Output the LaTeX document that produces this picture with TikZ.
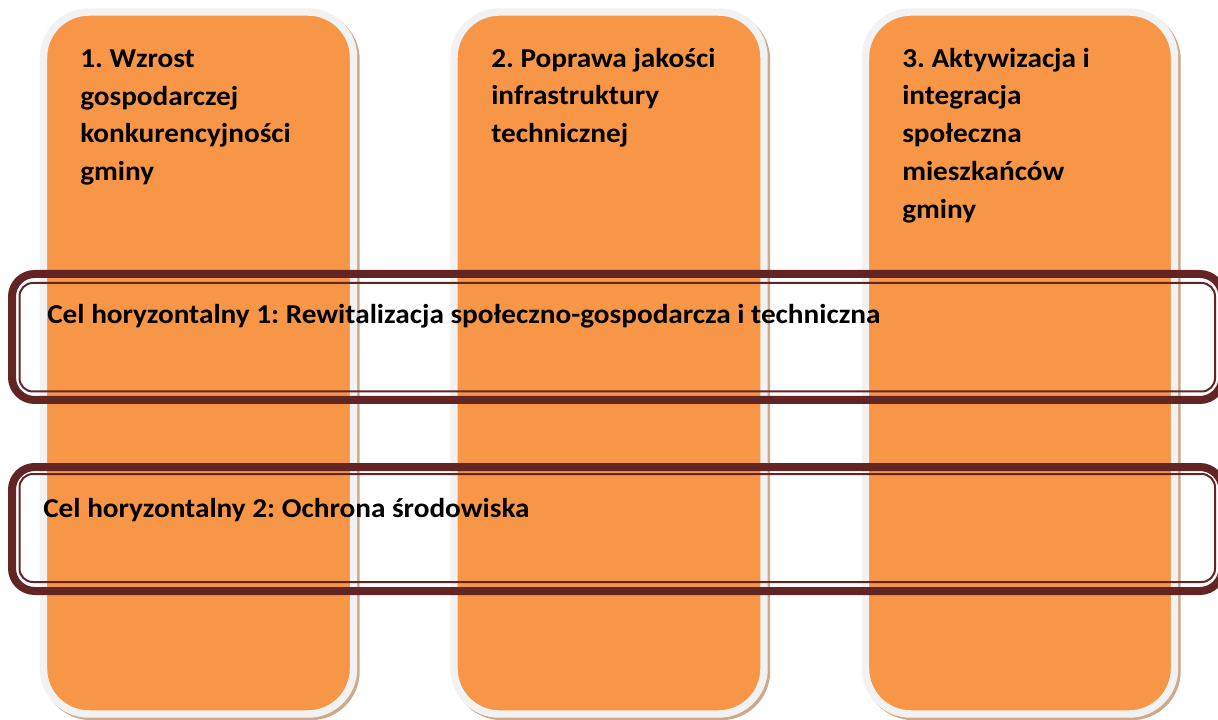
\documentclass[tikz,border=0pt]{standalone}
\usepackage{fontspec}
\setmainfont{Carlito}[FakeStretch=1.07]
\usepackage{xcolor}
\usepackage{tikz}
\definecolor{goalfill}{HTML}{F79646}
\definecolor{goalrim}{HTML}{F2F2F2}
\definecolor{goalshadow}{HTML}{CFA98B}
\definecolor{bandline}{HTML}{632523}
\frenchspacing
\tikzset{
  goal/.style={fill=goalfill, draw=goalrim, line width=5.6pt, rounded corners=34pt},
  goalshade/.style={fill=goalshadow, draw=goalshadow, line width=5.6pt, rounded corners=34pt},
  bandouter/.style={draw=bandline, line width=6pt, rounded corners=17pt},
  bandinner/.style={draw=bandline, line width=1.5pt, rounded corners=10pt},
  goaltext/.style={
    font=\fontsize{20.5pt}{28.3pt}\selectfont\bfseries,
    anchor=base west,
    align=left,
    inner sep=0pt
  },
  bandtext/.style={
    font=\fontsize{20.5pt}{28.3pt}\selectfont\bfseries,
    anchor=base west,
    inner sep=0pt
  }
}

\begin{document}
\begin{tikzpicture}[x=0.75pt, y=-0.75pt]
  \useasboundingbox (0,0) rectangle (1218,720);
  \clip (0,0) rectangle (1218,720);

  % three goal columns
  \draw[goalshade] (46,14.5) rectangle (356,716.5);
  \draw[goal] (43.5,12) rectangle (353.5,714);
  \draw[goalshade] (456.5,14.5) rectangle (766.5,716.5);
  \draw[goal] (454,12) rectangle (764,714);
  \draw[goalshade] (868,14.5) rectangle (1177,716.5);
  \draw[goal] (865.5,12) rectangle (1174.5,714);

  % base = last line
  \node[goaltext] (g1) at (80,180.5) {1. Wzrost\\gospodarczej\\konkurencyjności\\gminy};
  \node[goaltext] (g2) at (491,142.7) {2. Poprawa jakości\\infrastruktury\\technicznej};
  \node[goaltext] (g3) at (902,218.2) {3. Aktywizacja i\\integracja\\społeczna\\mieszkańców\\gminy};

  % horizontal goals
  \draw[bandouter] (12,274) rectangle (1222.5,400);
  \draw[bandinner] (19.5,283) rectangle (1215,391.5);
  \node[bandtext] (h1) at (47,324) {Cel horyzontalny 1: Rewitalizacja społeczno-gospodarcza i techniczna};

  \draw[bandouter] (12,467) rectangle (1222.5,591);
  \draw[bandinner] (19.5,474) rectangle (1215,582);
  \node[bandtext] (h2) at (43,517) {Cel horyzontalny 2: Ochrona środowiska};
\end{tikzpicture}
\end{document}
